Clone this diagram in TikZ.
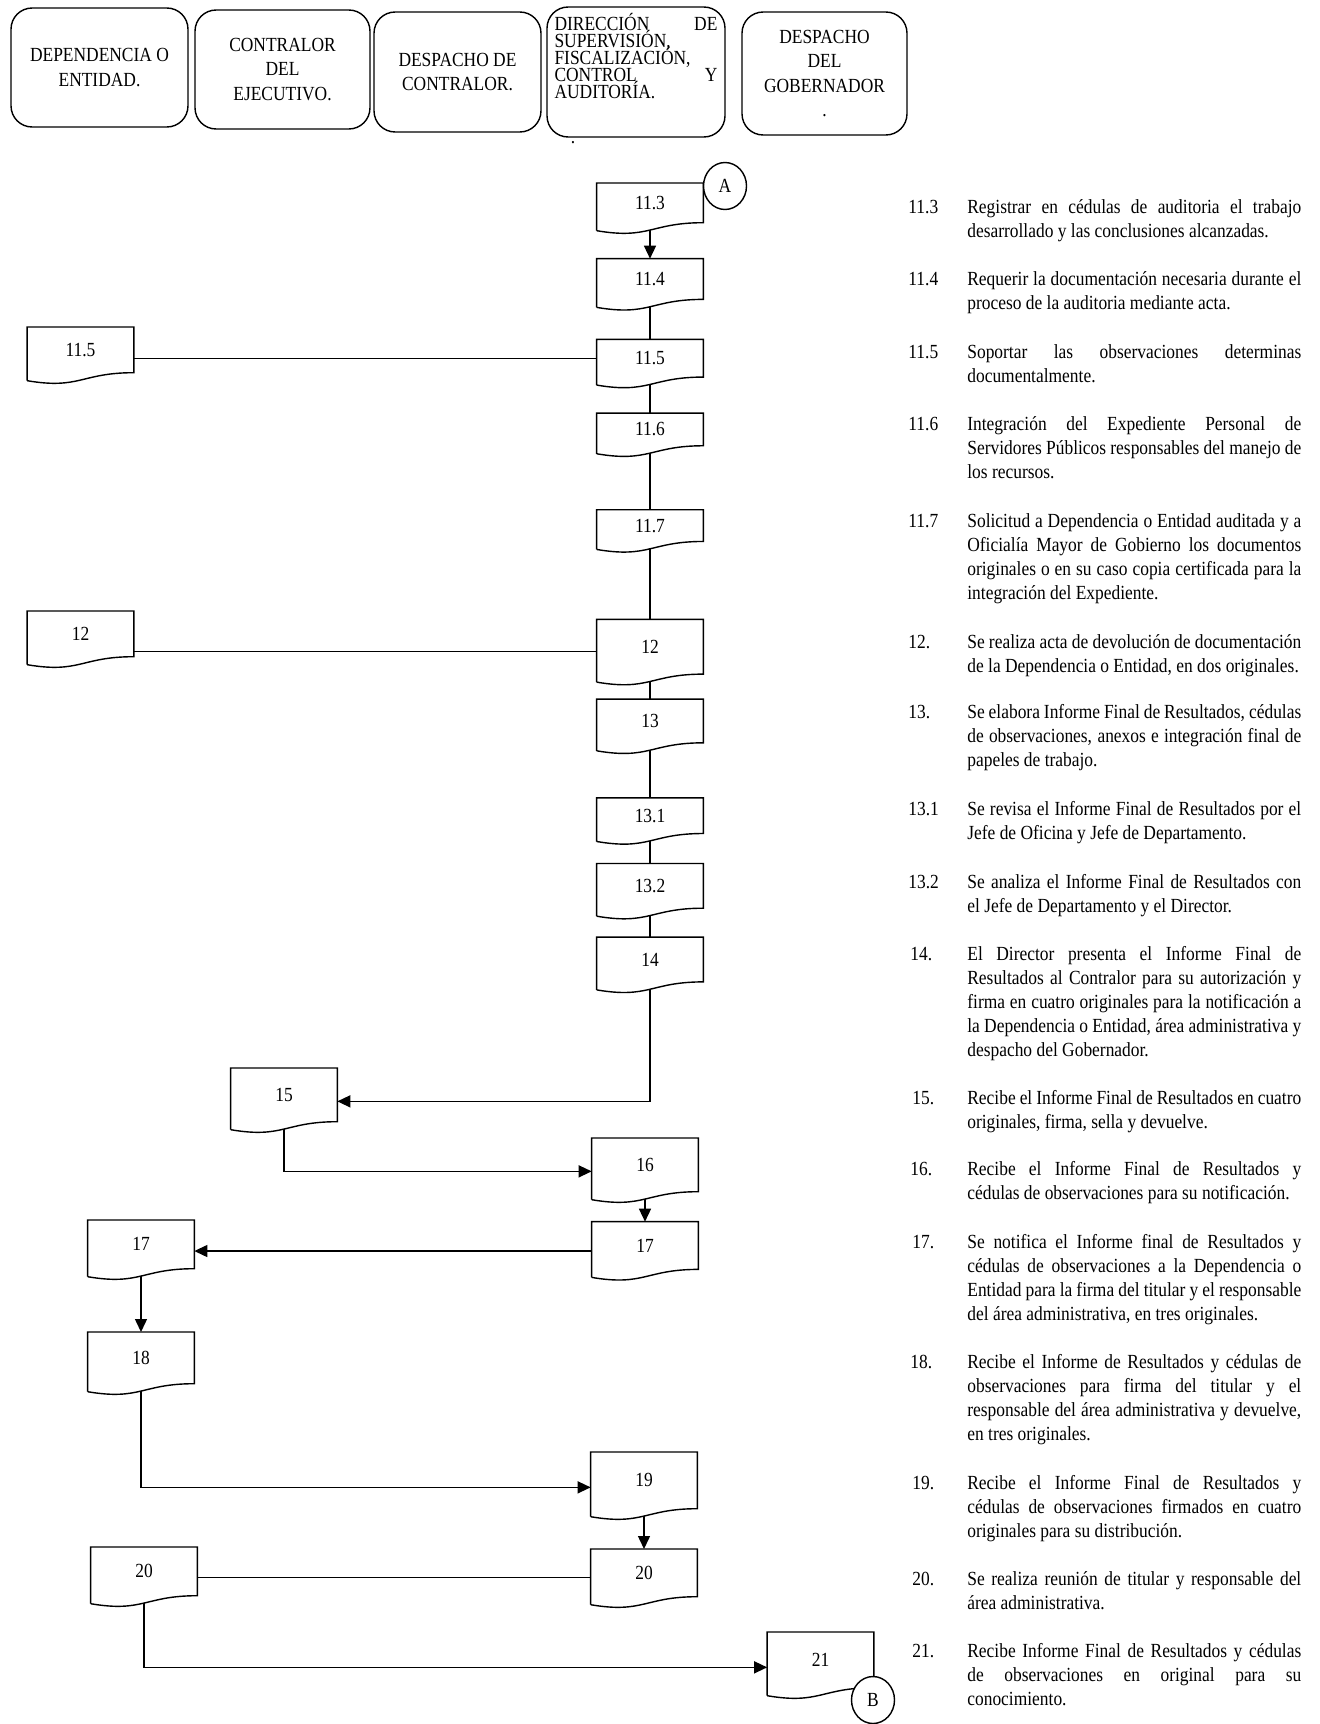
\documentclass[tikz,border=0pt]{standalone}
\usepackage{fontspec}
\setmainfont{Liberation Serif}[FakeStretch=0.87]
\usetikzlibrary{arrows.meta, positioning, shapes.geometric, calc}
\newcommand{\bodysize}{\fontsize{11.4}{13.7}\selectfont}
\hyphenpenalty=10000
\exhyphenpenalty=10000
\tikzset{%
	head/.style={draw, line width=0.8pt, rectangle, rounded corners=12pt, align=center,
		inner sep=0pt, font=\bodysize},
	doc/.style={anchor=north, minimum width=2.12cm, inner sep=0pt, font=\bodysize,
		append after command={\pgfextra{%
			\draw[line width=0.8pt] ([yshift=-1.6mm]\tikzlastnode.south west) -- (\tikzlastnode.north west)
				-- (\tikzlastnode.north east) -- (\tikzlastnode.south east)
				.. controls ([xshift=-1.06cm]\tikzlastnode.south east) and ([xshift=1.06cm,yshift=-3.4mm]\tikzlastnode.south west)
				.. ([yshift=-1.6mm]\tikzlastnode.south west);}}},
	conn/.style={draw, ellipse, line width=0.8pt, minimum width=8.6mm, minimum height=9.4mm,
		inner sep=0pt, fill=white, font=\bodysize},
	connector/.style={line width=0.8pt},
	sel/.style={line width=0.8pt, -{Triangle[length=2.6mm, width=2.4mm]}},
	num/.style={anchor=base west, inner sep=0pt, font=\bodysize},
	desc/.style={anchor=base west, text width=6.68cm, align=justify, inner sep=0pt, font=\bodysize}
}

\begin{document}
\begin{tikzpicture}[x=0.02cm, y=-0.02cm]
	\useasboundingbox (0,0) rectangle (1319,1724);

	\node[head, minimum width=3.54cm, minimum height=2.38cm] (hdep) at (99.5,67.5) {DEPENDENCIA O\\ENTIDAD.};
	\node[head, minimum width=3.5cm, minimum height=2.38cm] (hcon) at (282.5,69.5) {CONTRALOR\\DEL\\EJECUTIVO.};
	\node[head, minimum width=3.34cm, minimum height=2.4cm] (hdes) at (457.5,72) {DESPACHO DE\\CONTRALOR.};
	\node[head, minimum width=3.56cm, minimum height=2.6cm] (hdir) at (636,72)
		{\parbox[c][2.5cm][t]{3.26cm}{\fontsize{11.4}{9.7}\selectfont\lineskiplimit=-20pt
		\vspace*{2pt}DIRECCIÓN\hfill DE\\ SUPERVISIÓN,\\ FISCALIZACIÓN,\\ CONTROL\hfill Y\\ AUDITORÍA.}};
	\node[inner sep=0pt, font=\bodysize] (hdot) at (573,143) {.};
	\node[head, minimum width=3.3cm, minimum height=2.46cm] (hgob) at (824.5,73.5) {DESPACHO\\DEL\\GOBERNADOR\\.};

	\node[doc, minimum height=0.78cm] (d113) at (650,183) {11.3};
	\node[doc, minimum height=0.8cm, below=0.72cm of d113] (d114) {11.4};
	\node[doc, minimum height=0.74cm, below=0.8cm of d114] (d115) {11.5};
	\node[doc, minimum height=0.64cm, below=0.72cm of d115] (d116) {11.6};
	\node[doc, minimum height=0.62cm, below=1.28cm of d116] (d117) {11.7};
	\node[doc, minimum height=1.08cm, below=1.56cm of d117] (d12) {12};
	\node[doc, minimum height=0.86cm, below=0.5cm of d12] (d13) {13};
	\node[doc, minimum height=0.7cm, below=1.1cm of d13] (d131) {13.1};
	\node[doc, minimum height=0.88cm, below=0.6cm of d131] (d132) {13.2};
	\node[doc, minimum height=0.88cm, below=0.58cm of d132] (d14) {14};
	\node[conn] (conA) at (725,186) {A};

	\node[doc, minimum height=0.9cm] (l115) at (80.5,327) {11.5};
	\node[doc, minimum height=0.9cm] (l12) at (80.5,611) {12};
	\node[doc, minimum height=1.06cm] (d15) at (284,1068) {15};
	\node[doc, minimum height=1.06cm] (d16) at (645,1138) {16};
	\node[doc, minimum height=0.94cm, below=0.6cm of d16] (d17) {17};
	\node[doc, minimum height=0.96cm] (l17) at (141,1220) {17};
	\node[doc, minimum height=1.02cm] (l18) at (141,1332) {18};
	\node[doc, minimum height=1.12cm] (d19) at (644,1452) {19};
	\node[doc, minimum height=0.94cm] (d20) at (644,1549) {20};
	\node[doc, minimum height=0.96cm] (l20) at (144,1547) {20};
	\node[doc, minimum height=1.1cm] (d21) at (820.5,1632) {21};
	\node[conn] (conB) at (873,1700) {B};

	\coordinate (c12) at ([yshift=-1mm]d12.west);
	\coordinate (c17) at ([yshift=-1.1mm]d17.west);
	\coordinate (c20) at ([yshift=-0.9mm]d20.west);

	\draw[sel] ([yshift=-1.4mm]d113.south) -- (d114.north);
	\draw[connector] ([yshift=-1.4mm]d114.south) -- (d115.north);
	\draw[connector] ([yshift=-1.4mm]d115.south) -- (d116.north);
	\draw[connector] ([yshift=-1.4mm]d116.south) -- (d117.north);
	\draw[connector] ([yshift=-1.4mm]d117.south) -- (d12.north);
	\draw[connector] ([yshift=-1.4mm]d12.south) -- (d13.north);
	\draw[connector] ([yshift=-1.4mm]d13.south) -- (d131.north);
	\draw[connector] ([yshift=-1.4mm]d131.south) -- (d132.north);
	\draw[connector] ([yshift=-1.4mm]d132.south) -- (d14.north);
	\draw[connector] (d115.west) -- (d115.west -| l115.east);
	\draw[connector] (c12) -- (c12 -| l12.east);
	\draw[sel] ([yshift=-1.4mm]d14.south) |- ([yshift=-1.3mm]d15.east);
	\draw[sel] ([yshift=-1.4mm]d15.south) |- ([yshift=-1.3mm]d16.west);
	\draw[sel] ([yshift=-1.4mm]d16.south) -- (d17.north);
	\draw[sel] (c17) -- (c17 -| l17.east);
	\draw[sel] ([yshift=-1.4mm]l17.south) -- (l18.north);
	\draw[sel] ([yshift=-1.4mm]l18.south) |- ([yshift=-1.4mm]d19.west);
	\draw[sel] ([yshift=-1.4mm]d19.south) -- (d20.north);
	\draw[connector] (c20) -- (c20 -| l20.east);
	\draw[sel] ([yshift=-1.4mm]l20.south) |- ([yshift=-1.5mm]d21.west);

	\node[num] (n113) at (908,213) {11.3};
	\node[desc] (t113) at (967,213) {Registrar en cédulas de auditoria el trabajo\linebreak desarrollado y las conclusiones alcanzadas.};
	\node[num] (n114) at (908,285) {11.4};
	\node[desc] (t114) at (967,285) {Requerir la documentación necesaria durante el\linebreak proceso de la auditoria mediante acta.};
	\node[num] (n115) at (908,358) {11.5};
	\node[desc] (t115) at (967,358) {Soportar las observaciones determinas\linebreak documentalmente.};
	\node[num] (n116) at (908,430) {11.6};
	\node[desc] (t116) at (967,430) {Integración del Expediente Personal de\linebreak Servidores Públicos responsables del manejo de\linebreak los recursos.};
	\node[num] (n117) at (908,527) {11.7};
	\node[desc] (t117) at (967,527) {Solicitud a Dependencia o Entidad auditada y a\linebreak Oficialía Mayor de Gobierno los documentos\linebreak originales o en su caso copia certificada para la\linebreak integración del Expediente.};
	\node[num] (n12) at (908,648) {12.};
	\node[desc] (t12) at (967,648) {Se realiza acta de devolución de documentación\linebreak de la Dependencia o Entidad, en dos originales.};
	\node[num] (n13) at (908,718) {13.};
	\node[desc] (t13) at (967,718) {Se elabora Informe Final de Resultados, cédulas\linebreak de observaciones, anexos e integración final de\linebreak papeles de trabajo.};
	\node[num] (n131) at (908,815) {13.1};
	\node[desc] (t131) at (967,815) {Se revisa el Informe Final de Resultados por el\linebreak Jefe de Oficina y Jefe de Departamento.};
	\node[num] (n132) at (908,888) {13.2};
	\node[desc] (t132) at (967,888) {Se analiza el Informe Final de Resultados con\linebreak el Jefe de Departamento y el Director.};
	\node[num] (n14) at (910,960) {14.};
	\node[desc] (t14) at (967,960) {El Director presenta el Informe Final de\linebreak Resultados al Contralor para su autorización y\linebreak firma en cuatro originales para la notificación a\linebreak la Dependencia o Entidad, área administrativa y\linebreak despacho del Gobernador.};
	\node[num] (n15) at (912,1104) {15.};
	\node[desc] (t15) at (967,1104) {Recibe el Informe Final de Resultados en cuatro\linebreak originales, firma, sella y devuelve.};
	\node[num] (n16) at (910,1175) {16.};
	\node[desc] (t16) at (967,1175) {Recibe el Informe Final de Resultados y\linebreak cédulas de observaciones para su notificación.};
	\node[num] (n17) at (912,1248) {17.};
	\node[desc] (t17) at (967,1248) {Se notifica el Informe final de Resultados y\linebreak cédulas de observaciones a la Dependencia o\linebreak Entidad para la firma del titular y el responsable\linebreak del área administrativa, en tres originales.};
	\node[num] (n18) at (910,1368) {18.};
	\node[desc] (t18) at (967,1368) {Recibe el Informe de Resultados y cédulas de\linebreak observaciones para firma del titular y el\linebreak responsable del área administrativa y devuelve,\linebreak en tres originales.};
	\node[num] (n19) at (912,1489) {19.};
	\node[desc] (t19) at (967,1489) {Recibe el Informe Final de Resultados y\linebreak cédulas de observaciones firmados en cuatro\linebreak originales para su distribución.};
	\node[num] (n20) at (912,1585) {20.};
	\node[desc] (t20) at (967,1585) {Se realiza reunión de titular y responsable del\linebreak área administrativa.};
	\node[num] (n21) at (912,1657) {21.};
	\node[desc] (t21) at (967,1657) {Recibe Informe Final de Resultados y cédulas\linebreak de observaciones en original para su\linebreak conocimiento.};
\end{tikzpicture}
\end{document}
